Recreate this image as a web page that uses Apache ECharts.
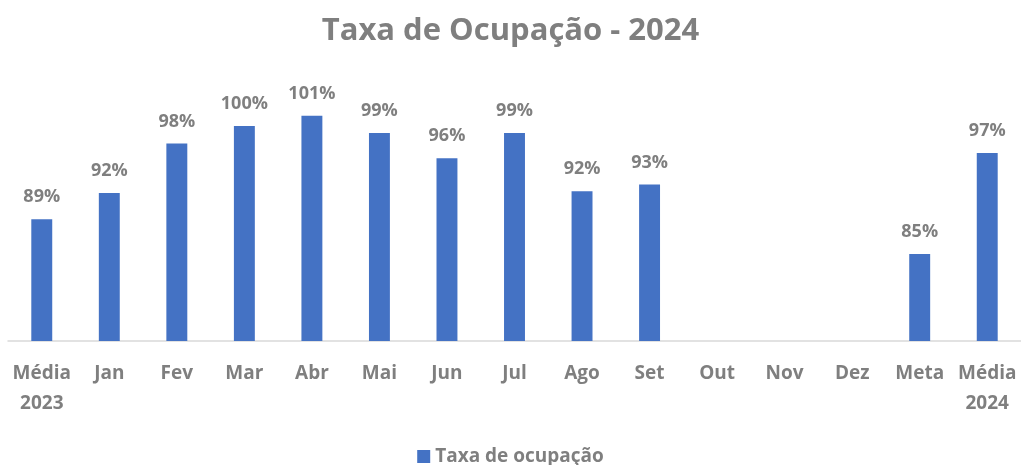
<!DOCTYPE html>
<html>
<head>
<meta charset="utf-8">
<script src="https://cdn.jsdelivr.net/npm/echarts@6/dist/echarts.min.js"></script>
<style>
  html, body { margin: 0; padding: 0; background: #fff; }
  #chart { width: 1021px; height: 465px; }
</style>
</head>
<body>
<div id="chart"></div>
<script>
// categories and values
const categories = ['Média\n2023', 'Jan', 'Fev', 'Mar', 'Abr', 'Mai', 'Jun', 'Jul', 'Ago', 'Set', 'Out', 'Nov', 'Dez', 'Meta', 'Média\n2024'];
const ocupacao = [89.0, 92.0, 97.7, 99.7, 100.9, 98.9, 96.0, 98.9, 92.2, 93.0, null, null, null, 85.0, 96.6];
const seriesName = 'Taxa de ocupação';

const grey = '#7f7f7f';
const font = 'Open Sans';

const chart = echarts.init(document.getElementById('chart'));

const option = {
  animation: false,
  title: {
    text: 'Taxa de Ocupação - 2024',
    left: 'center',
    top: 11,
    textStyle: { color: grey, fontFamily: font, fontSize: 31, fontWeight: 'bold' }
  },
  legend: {
    top: 442,
    left: 'center',
    itemWidth: 13,
    itemHeight: 13,
    itemGap: 6,
    textStyle: { color: grey, fontFamily: font, fontSize: 19, fontWeight: 'bold' },
    data: [{ name: seriesName, icon: 'rect' }]
  },
  grid: { left: 8, right: -3, top: 80, bottom: 124 },
  xAxis: {
    type: 'category',
    data: categories,
    axisLine: { lineStyle: { color: '#d9d9d9', width: 1.5 } },
    axisTick: { show: false },
    axisLabel: {
      color: grey,
      fontFamily: font,
      fontSize: 19,
      fontWeight: 'bold',
      margin: 18,
      lineHeight: 30,
      interval: 0
    }
  },
  yAxis: {
    type: 'value',
    min: 75,
    max: 105,
    show: false
  },
  series: [{
    name: seriesName,
    type: 'bar',
    data: ocupacao,
    barWidth: '31%',
    itemStyle: { color: '#4472c4' },
    label: {
      show: true,
      position: 'top',
      distance: 13,
      color: grey,
      fontFamily: font,
      fontSize: 18,
      fontWeight: 'bold',
      formatter: p => Math.round(p.value) + '%'
    }
  }]
};

chart.setOption(option);
</script>
</body>
</html>
